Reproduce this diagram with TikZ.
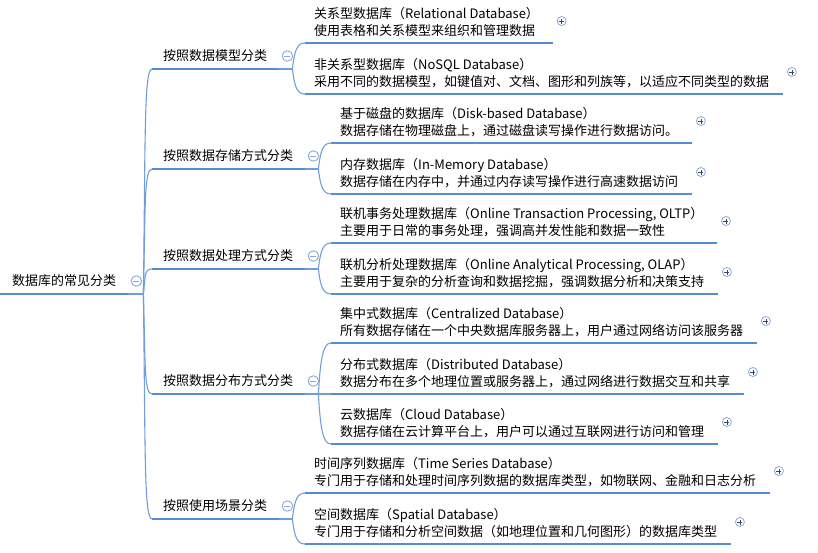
\documentclass[tikz,border=0pt]{standalone}
\usepackage{fontspec}
\setmainfont{Noto Sans CJK SC}
\usepackage{xcolor}
\definecolor{mmblue}{RGB}{84,141,212}
\definecolor{mmthin}{RGB}{112,158,220}
\definecolor{mmbtn}{RGB}{140,168,218}
\definecolor{mmplus}{RGB}{60,70,90}
\usetikzlibrary{calc}
\newcommand{\lowdp}[1]{\rule[-#1pt]{0pt}{#1pt}}
\tikzset{
  topic/.style={anchor=south west, inner sep=0pt, align=left, font=\fontsize{13}{17}\selectfont},
  uline/.style={mmblue, line width=2.6pt},
  link/.style={mmthin, line width=1.1pt},
  bend link/.style={to path={.. controls ($(\tikztostart)!0.7!(\tikztostart|-\tikztotarget)+(2pt,0)$) and ($(\tikztotarget)+(-8pt,0)$) .. (\tikztotarget)}},
  minusbtn/.style={circle, draw=mmbtn, fill=white, line width=0.9pt, minimum size=10.5pt, inner sep=0pt,
    path picture={\draw[mmbtn, line width=0.9pt] ([xshift=-3pt]path picture bounding box.center) -- ([xshift=3pt]path picture bounding box.center);}},
  plusbtn/.style={circle, draw=mmbtn, fill=white, line width=0.8pt, minimum size=9pt, inner sep=0pt,
    path picture={\draw[mmplus, line width=0.8pt] ([xshift=-2.5pt]path picture bounding box.center) -- ([xshift=2.5pt]path picture bounding box.center)
      ([yshift=-2.5pt]path picture bounding box.center) -- ([yshift=2.5pt]path picture bounding box.center);}},
}
\begin{document}
\begin{tikzpicture}[x=1pt, y=1pt]
  \useasboundingbox (0,0) rectangle (818,-552);

  % Root topic
  \node[topic] (root) at (12,-294) {数据库的常见分类\lowdp{8}};
  \draw[uline] ([xshift=-12pt]root.south west) -- ([xshift=12pt]root.south east) coordinate (root-r);
  \draw[link] (root-r) -- ++(15,0) coordinate (root-j);
  \node[minusbtn] (root-btn) at ([shift={(8pt,13pt)}]root-r) {};

  % Main branches
  \foreach \id/\u/\txt in {b1/69/按照数据模型分类, b2/169/按照数据存储方式分类,
      b3/269/按照数据处理方式分类, b4/394/按照数据分布方式分类, b5/519/按照使用场景分类} {
    \node[topic] (\id) at (163,-\u) {\txt\lowdp{8}};
    \draw[uline] ([xshift=-11pt]\id.south west) coordinate (\id-l) -- ([xshift=12pt]\id.south east) coordinate (\id-r);
    \draw[link] (root-j) to[bend link] (\id-l);
    \draw[link] (\id-r) -- ++(13,0) coordinate (\id-j);
    \node[minusbtn] (\id-btn) at ([shift={(8pt,13pt)}]\id-r) {};
  }

  % Sub topics
  \foreach \p/\id/\cx/\u/\ct/\cd in {
      b1/c11/314/43/关系型数据库（Relational Database）/使用表格和关系模型来组织和管理数据,
      b1/c12/314/94/非关系型数据库（NoSQL Database）/采用不同的数据模型，如键值对、文档、图形和列族等，以适应不同类型的数据,
      b2/c21/340/143/基于磁盘的数据库（Disk-based Database）/数据存储在物理磁盘上，通过磁盘读写操作进行数据访问。,
      b2/c22/340/194/内存数据库（In-Memory Database）/数据存储在内存中，并通过内存读写操作进行高速数据访问,
      b3/c31/340/243/{联机事务处理数据库（Online Transaction Processing, OLTP）}/主要用于日常的事务处理，强调高并发性能和数据一致性,
      b3/c32/340/294/{联机分析处理数据库（Online Analytical Processing, OLAP）}/主要用于复杂的分析查询和数据挖掘，强调数据分析和决策支持,
      b4/c41/340/343/集中式数据库（Centralized Database）/所有数据存储在一个中央数据库服务器上，用户通过网络访问该服务器,
      b4/c42/340/394/分布式数据库（Distributed Database）/数据分布在多个地理位置或服务器上，通过网络进行数据交互和共享,
      b4/c43/340/444/云数据库（Cloud Database）/数据存储在云计算平台上，用户可以通过互联网进行访问和管理,
      b5/c51/314/493/时间序列数据库（Time Series Database）/专门用于存储和处理时间序列数据的数据库类型，如物联网、金融和日志分析,
      b5/c52/314/544/空间数据库（Spatial Database）/专门用于存储和分析空间数据（如地理位置和几何图形）的数据库类型} {
    \node[topic] (\id) at (\cx,-\u) {\ct\\\cd\lowdp{7}};
    \draw[uline] ([xshift=-9pt]\id.south west) coordinate (\id-l) -- ([xshift=14pt]\id.south east) coordinate (\id-r);
    \draw[link] (\p-j) to[bend link] (\id-l);
    \node[plusbtn] (\id-btn) at ([shift={(8.5pt,22pt)}]\id-r) {};
  }
\end{tikzpicture}
\end{document}
